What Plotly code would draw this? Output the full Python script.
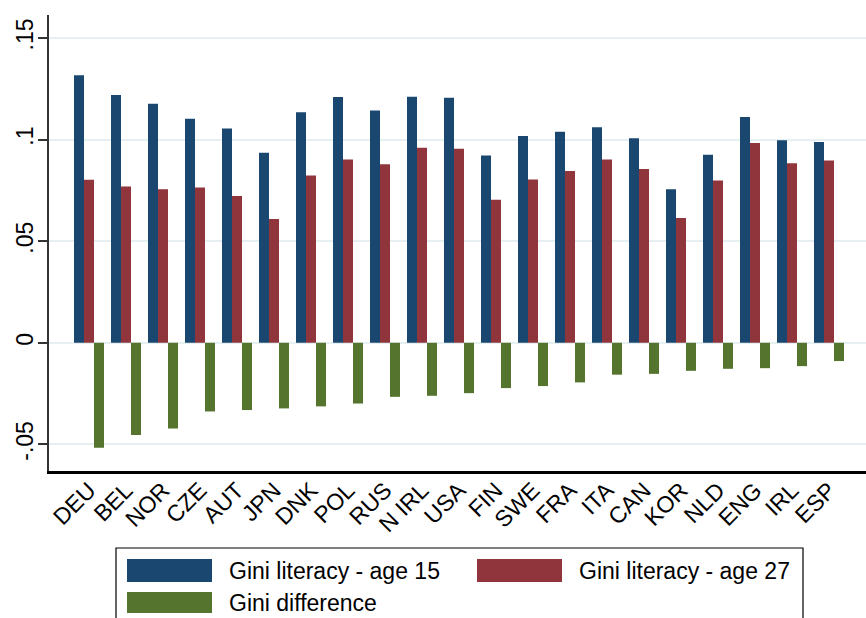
import plotly.graph_objects as go

countries = ["DEU", "BEL", "NOR", "CZE", "AUT", "JPN", "DNK", "POL", "RUS", "N IRL", "USA",
             "FIN", "SWE", "FRA", "ITA", "CAN", "KOR", "NLD", "ENG", "IRL", "ESP"]
gini_15 = [0.1317, 0.1219, 0.1176, 0.1102, 0.1055, 0.0935, 0.1134, 0.1209, 0.1143, 0.1211, 0.1206,
           0.0922, 0.1017, 0.1038, 0.1060, 0.1007, 0.0755, 0.0925, 0.1111, 0.0997, 0.0988]
gini_27 = [0.0802, 0.0769, 0.0755, 0.0764, 0.0722, 0.0609, 0.0823, 0.0902, 0.0879, 0.0960, 0.0955,
           0.0704, 0.0804, 0.0845, 0.0902, 0.0855, 0.0614, 0.0799, 0.0983, 0.0884, 0.0897]
gini_diff = [-0.0517, -0.0454, -0.0422, -0.0338, -0.0331, -0.0323, -0.0313, -0.0299, -0.0266, -0.0261, -0.0248,
             -0.0223, -0.0213, -0.0195, -0.0157, -0.0153, -0.0138, -0.0128, -0.0125, -0.0115, -0.0090]

y_ticks = [-0.05, 0, 0.05, 0.1, 0.15]
y_tick_labels = ["-.05", "0", ".05", ".1", ".15"]

series = [("Gini literacy - age 15", gini_15, "#1a476f"),
          ("Gini literacy - age 27", gini_27, "#90353b"),
          ("Gini difference", gini_diff, "#55752f")]

W, H = 866, 618
ML, MR, MT, MB = 49, 0, 15, 147
PW, PH = W - ML - MR, H - MT - MB
FONT = "Liberation Sans, Arial, sans-serif"

fig = go.Figure()
for name, vals, col in series:
    fig.add_trace(go.Bar(x=countries, y=vals, name=name, marker_color=col,
                         marker_line_width=0, showlegend=False))

group_px = 37.0
first_center_px = 89.0
x0 = -(first_center_px - ML) / group_px
x1 = x0 + PW / group_px

fig.update_layout(
    width=W, height=H,
    margin=dict(l=ML, r=MR, t=MT, b=MB, pad=0),
    barmode="group", bargap=7 / 37, bargroupgap=0,
    plot_bgcolor="white", paper_bgcolor="white",
    font=dict(family=FONT, color="black"),
    xaxis=dict(type="category", range=[x0, x1], showgrid=False, ticks="",
               tickangle=-45, tickfont=dict(size=23, family=FONT), ticklabelstandoff=-6,
               showline=True, linecolor="black", linewidth=2.5, zeroline=False),
    yaxis=dict(range=[-0.0631, 0.1613], tickvals=y_ticks, ticktext=y_tick_labels,
               tickangle=-90, tickfont=dict(size=23, family=FONT), ticklabelstandoff=-4,
               ticks="outside", ticklen=9, tickcolor="#333333", tickwidth=1.5,
               showgrid=True, gridcolor="#e6eff2", gridwidth=1.5,
               showline=True, linecolor="#333333", linewidth=1.5, zeroline=False),
)

def px_x(p):
    return (p - ML) / PW

def px_y(p):
    return (H - MB - p) / PH

# legend box (Stata style)
fig.add_shape(type="rect", xref="paper", yref="paper",
              x0=px_x(116), x1=px_x(803), y0=px_y(624), y1=px_y(548),
              line=dict(color="black", width=1.2), fillcolor="white", layer="above")
legend_items = [(series[0], 127, 212, 559, 582, 227),
                (series[1], 477, 562, 559, 582, 577),
                (series[2], 127, 212, 592, 613, 227)]
for (name, _, col), sx0, sx1, sy0, sy1, tx in legend_items:
    fig.add_shape(type="rect", xref="paper", yref="paper",
                  x0=px_x(sx0), x1=px_x(sx1), y0=px_y(sy1), y1=px_y(sy0),
                  line=dict(width=0), fillcolor=col, layer="above")
    fig.add_annotation(xref="paper", yref="paper", x=px_x(tx), y=px_y((sy0 + sy1) / 2),
                       text=name, showarrow=False, xanchor="left", yanchor="middle",
                       font=dict(size=23, family=FONT, color="black"))

fig.write_html("out.html", config={"displayModeBar": False},
               post_script="document.body.style.margin='0';document.body.style.overflow='hidden';")
